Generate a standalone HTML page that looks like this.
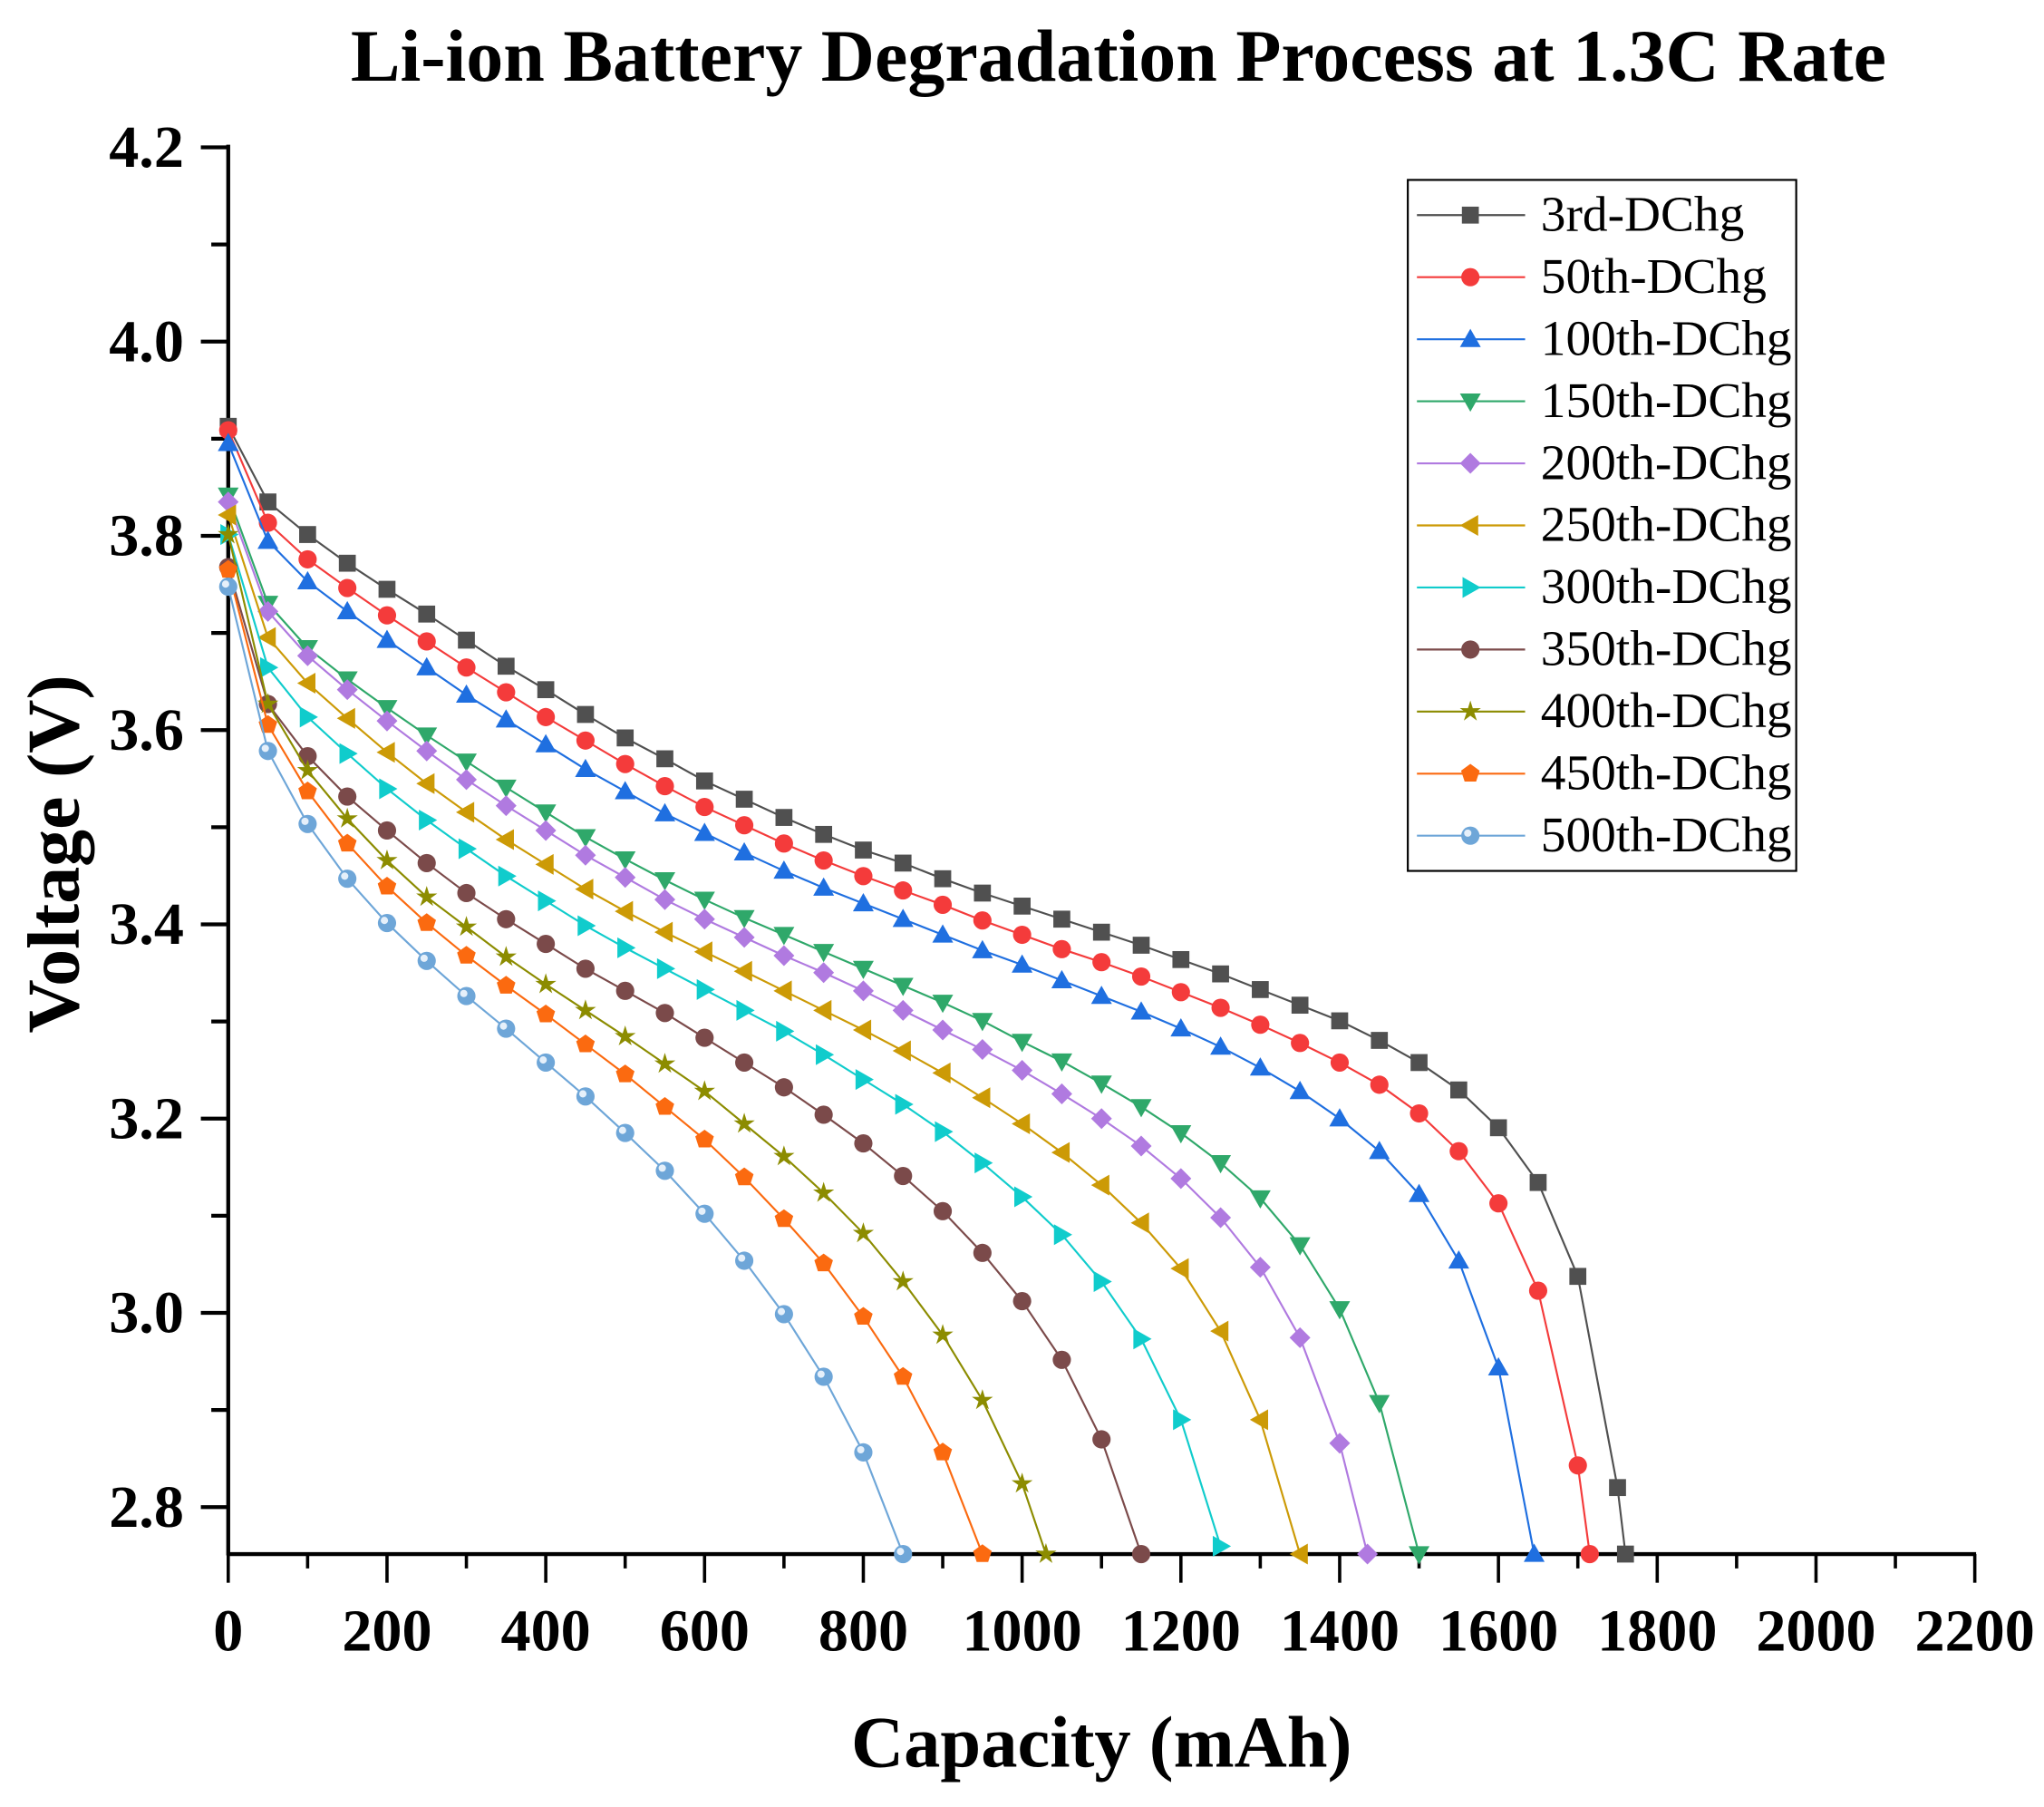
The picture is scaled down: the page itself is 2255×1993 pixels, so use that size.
<!DOCTYPE html>
<html><head><meta charset="utf-8"><style>
html,body{margin:0;padding:0;background:#fff}
svg{display:block}
text{font-family:"Liberation Serif",serif}
</style></head><body>
<svg id="s" width="2255" height="1993" viewBox="0 0 1568 1386" xmlns="http://www.w3.org/2000/svg">
<rect width="1568" height="1386" fill="#fff"/>
<text x="858" y="62" text-anchor="middle" font-size="57" font-weight="bold">Li-ion Battery  Degradation Process at 1.3C Rate</text>
<text x="845" y="1355" text-anchor="middle" font-size="56" font-weight="bold">Capacity (mAh)</text>
<text transform="translate(60,655) rotate(-90)" text-anchor="middle" font-size="57" font-weight="bold">Voltage (V)</text>
<g id="ax"></g>
<g id="data"></g>
<g id="leg"></g>
</svg>
<script>
var NS="http://www.w3.org/2000/svg";
function el(t,a,p,txt){var e=document.createElementNS(NS,t);for(var k in a)e.setAttribute(k,a[k]);if(txt!==undefined)e.textContent=txt;p.appendChild(e);return e;}
var ax=document.getElementById('ax'),dg=document.getElementById('data'),lg=document.getElementById('leg');
function X(c){return 175+c*1340/2200;}
function Y(v){return 113+(4.2-v)/0.2*149;}
el('line',{x1:175,y1:111,x2:175,y2:1193,stroke:'#000','stroke-width':3},ax);
el('line',{x1:174,y1:1192,x2:1516,y2:1192,stroke:'#000','stroke-width':3},ax);
for(var i=0;i<=14;i++){var v=4.2-i*0.1;if(v<2.75)break;var y=Y(v);var maj=i%2==0;
 el('line',{x1:maj?154:162,y1:y,x2:175,y2:y,stroke:'#000','stroke-width':3},ax);
 if(maj)el('text',{x:141,y:y+15,'text-anchor':'end','font-size':46,'font-weight':'bold'},ax,v.toFixed(1));}
for(var c=0;c<=2200;c+=100){var x=X(c);var maj=c%200==0;
 el('line',{x1:x,y1:1192,x2:x,y2:maj?1214:1203,stroke:'#000','stroke-width':2.5},ax);
 if(maj)el('text',{x:x,y:1266,'text-anchor':'middle','font-size':46,'font-weight':'bold'},ax,''+c);}
var S=[
['3rd-DChg','#505050','sq',[327,385,410,432,452,471,491,511,529,548,566,582,599,613,627,640,652,662,674,685,695,705,715,725,736,747,759,771,783,798,815,836,865,907,979,1141],[1760,1192]],
['50th-DChg','#f43b3b','ci',[330,401,429,451,472,492,512,531,550,568,586,603,619,633,647,660,672,683,694,706,717,728,738,749,761,773,786,800,815,832,854,883,923,990,1124],[1715,1192]],
['100th-DChg','#1f6fe0','tu',[340,415,446,469,491,512,533,552,571,590,607,624,639,654,668,681,693,705,717,729,740,752,764,776,789,803,819,837,858,883,916,967,1049],[1645,1192]],
['150th-DChg','#2fa86a','td',[380,463,497,521,543,564,584,604,623,642,659,675,690,704,717,730,743,756,769,783,799,814,831,849,869,892,919,955,1004,1076],[1500,1192]],
['200th-DChg','#b07ae0','di',[385,469,503,529,553,576,598,618,637,656,673,690,705,719,733,746,760,775,790,805,821,839,858,879,904,934,972,1026,1107],[1435,1192]],
['250th-DChg','#cc9a06','tl',[395,489,524,551,577,601,623,644,663,682,699,715,730,745,760,775,790,806,823,842,862,884,909,938,973,1021,1089],[1350,1192]],
['300th-DChg','#10cccc','tr',[410,512,550,578,605,629,651,672,691,710,727,743,759,775,791,809,828,847,868,892,918,947,983,1027,1089,1186],null],
['350th-DChg','#7b4a4a','ci',[435,540,580,611,637,662,685,705,724,743,760,777,796,815,834,855,877,902,929,961,998,1043,1104],[1150,1192]],
['400th-DChg','#8c8c00','st',[410,540,591,628,660,688,711,734,755,775,795,816,837,862,887,915,946,983,1024,1074,1138],[1030,1192]],
['450th-DChg','#fb6a10','pe',[437,556,607,647,680,708,733,756,778,801,824,849,874,903,935,969,1010,1056,1114],[950,1192]],
['500th-DChg','#6ea6d8','sp',[450,576,632,674,708,737,764,789,815,841,869,898,931,967,1008,1056,1114],[850,1192]]
];
function marker(type,x,y,col,p,r){r=r||7;
 if(type=='sq'){el('rect',{x:x-r+0.5,y:y-r+0.5,width:2*r-1,height:2*r-1,fill:col},p);}
 else if(type=='ci'){el('circle',{cx:x,cy:y,r:r,fill:col},p);}
 else if(type=='sp'){el('circle',{cx:x,cy:y,r:r,fill:col},p);el('circle',{cx:x-2,cy:y-2,r:r*0.4,fill:'#e6f0fa'},p);}
 else if(type=='tu'){el('polygon',{points:(x)+','+(y-r-1)+' '+(x-r-1)+','+(y+r-1)+' '+(x+r+1)+','+(y+r-1),fill:col},p);}
 else if(type=='td'){el('polygon',{points:(x)+','+(y+r+1)+' '+(x-r-1)+','+(y-r+1)+' '+(x+r+1)+','+(y-r+1),fill:col},p);}
 else if(type=='tl'){el('polygon',{points:(x-r-1)+','+y+' '+(x+r-1)+','+(y-r-1)+' '+(x+r-1)+','+(y+r+1),fill:col},p);}
 else if(type=='tr'){el('polygon',{points:(x+r+1)+','+y+' '+(x-r+1)+','+(y-r-1)+' '+(x-r+1)+','+(y+r+1),fill:col},p);}
 else if(type=='di'){el('polygon',{points:x+','+(y-r-1)+' '+(x+r+1)+','+y+' '+x+','+(y+r+1)+' '+(x-r-1)+','+y,fill:col},p);}
 else if(type=='st'){var pts=[];for(var k=0;k<10;k++){var rr=k%2?r*0.45:r+1.5;var an=-Math.PI/2+k*Math.PI/5;pts.push((x+rr*Math.cos(an))+','+(y+rr*Math.sin(an)));}el('polygon',{points:pts.join(' '),fill:col},p);}
 else if(type=='pe'){var pts=[];for(var k=0;k<5;k++){var an=-Math.PI/2+k*2*Math.PI/5;pts.push((x+(r+0.5)*Math.cos(an))+','+(y+(r+0.5)*Math.sin(an)));}el('polygon',{points:pts.join(' '),fill:col},p);}
}
S.forEach(function(s,si){
 var pts=s[3].map(function(y,i){return [X(i*50),y];});
 if(s[4])pts.push([X(s[4][0]),s[4][1]]);
 el('polyline',{points:pts.map(function(p){return p[0]+','+p[1];}).join(' '),fill:'none',stroke:s[1],'stroke-width':1.5},dg);
 pts.forEach(function(p){marker(s[2],p[0],p[1],s[1],dg);});
 var ly=165+si*47.6;
 el('line',{x1:1087,y1:ly,x2:1170,y2:ly,stroke:s[1],'stroke-width':1.5},lg);
 marker(s[2],1128,ly,s[1],lg);
 el('text',{x:1182,y:ly+12,'font-size':38.5},lg,s[0]);
});
el('rect',{x:1080,y:138,width:298,height:530,fill:'none',stroke:'#000','stroke-width':1.5},lg);
</script>
</body></html>
